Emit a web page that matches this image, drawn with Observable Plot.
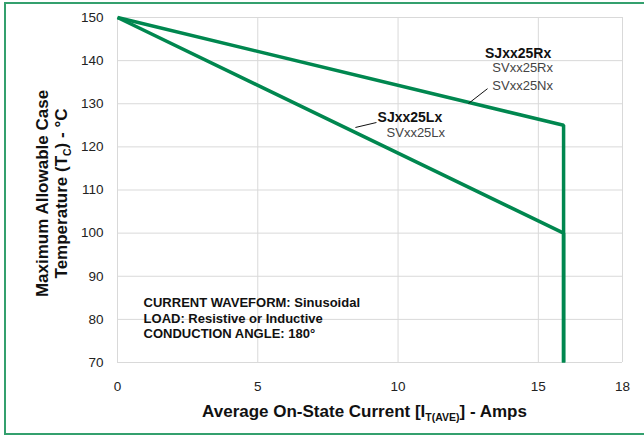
<!DOCTYPE html>
<html>
<head>
<meta charset="utf-8">
<script src="https://cdn.jsdelivr.net/npm/d3@7"></script>
<script src="https://cdn.jsdelivr.net/npm/@observablehq/plot@0.6"></script>
<style>
  html, body { margin: 0; padding: 0; background: #fff; }
  #wrap { position: relative; width: 644px; height: 436px; overflow: hidden; font-family: "Liberation Sans", Arial, sans-serif; }
  #border { position: absolute; left: 4px; top: 2px; width: 700px; height: 433px; box-sizing: border-box; border: 2px solid #34a06e; }
  #chart { position: absolute; left: 0; top: 0; }
</style>
</head>
<body>
<div id="wrap"><div id="border"></div><div id="chart"></div></div>
<script>
// ---- data ----
const xTicks = [0, 5, 10, 15, 18];
const yTicks = [70, 80, 90, 100, 110, 120, 130, 140, 150];
const seriesNames = ["SJxx25Rx", "SJxx25Lx"];
const currentRx = [0, 15.9, 15.9];
const tempRx = [150, 125, 70];
const currentLx = [0, 15.9, 15.9];
const tempLx = [150, 100, 70];
const annotationLines = ["CURRENT WAVEFORM: Sinusoidal", "LOAD: Resistive or Inductive", "CONDUCTION ANGLE: 180°"];

// table for the library
const lineData = [
  ...currentRx.map((x, i) => ({series: seriesNames[0], x, y: tempRx[i]})),
  ...currentLx.map((x, i) => ({series: seriesNames[1], x, y: tempLx[i]}))
];

// label placements (data units)
const labels = [
  {text: "SJxx25Rx", x: 13.1, y: 141.6, bold: true},
  {text: "SVxx25Rx", x: 13.36, y: 138.4, bold: false},
  {text: "SVxx25Nx", x: 13.36, y: 134.2, bold: false},
  {text: "SJxx25Lx", x: 9.27, y: 126.8, bold: true},
  {text: "SVxx25Lx", x: 9.59, y: 123.3, bold: false}
];
const leaders = [
  {x1: 12.51, y1: 130.06, x2: 13.19, y2: 133.5},
  {x1: 8.48, y1: 124.5, x2: 9.23, y2: 125.65}
];
const annotation = annotationLines.map((t, i) => ({text: t, x: 0.93, y: [83.8, 80.2, 76.6][i]}));

const green = "#00874f";
const grid = "#d9d9d9";

const chart = Plot.plot({
  width: 644,
  height: 436,
  marginLeft: 117,
  marginRight: 22,
  marginTop: 17,
  marginBottom: 74,
  style: {background: "transparent", fontFamily: "'Liberation Sans', Arial, sans-serif"},
  x: {domain: [0, 18]},
  y: {domain: [70, 150]},
  marks: [
    Plot.ruleX(xTicks, {stroke: grid, strokeWidth: 1}),
    Plot.ruleY(yTicks, {stroke: grid, strokeWidth: 1}),
    Plot.axisX({ticks: xTicks, tickSize: 0, tickPadding: 19, fontSize: 13.5, fill: "#222", label: null}),
    Plot.axisY({ticks: yTicks, tickSize: 0, tickPadding: 14, fontSize: 13.5, fill: "#222", label: null}),
    Plot.line(lineData, {x: "x", y: "y", z: "series", stroke: green, strokeWidth: 3.5, strokeLinejoin: "miter", strokeLinecap: "butt"}),
    Plot.link(leaders, {x1: "x1", y1: "y1", x2: "x2", y2: "y2", stroke: "#111", strokeWidth: 1}),
    Plot.text(labels.filter(d => d.bold), {x: "x", y: "y", text: "text", textAnchor: "start", fontSize: 14, fontWeight: "bold", fill: "#111"}),
    Plot.text(labels.filter(d => !d.bold), {x: "x", y: "y", text: "text", textAnchor: "start", fontSize: 13, fill: "#444"}),
    Plot.text(annotation, {x: "x", y: "y", text: "text", textAnchor: "start", fontSize: 13, fontWeight: "bold", fill: "#111"})
  ]
});
document.getElementById("chart").appendChild(chart);

// axis titles with subscripts
const svg = d3.select(chart);
const xs = chart.scale("x"), ys = chart.scale("y");
const cx = (xs.apply(0) + xs.apply(18)) / 2 - 5;
const cy = (ys.apply(70) + ys.apply(150)) / 2 + 4;

const xt = svg.append("text")
  .attr("x", cx).attr("y", 417)
  .attr("text-anchor", "middle")
  .attr("font-size", 17).attr("font-weight", "bold").attr("fill", "#111")
  .attr("font-family", "'Liberation Sans', Arial, sans-serif");
xt.append("tspan").text("Average On-State Current [I");
xt.append("tspan").attr("font-size", 10.5).attr("dy", 4).text("T(AVE)");
xt.append("tspan").attr("dy", -4).text("] - Amps");

const yt = svg.append("g").attr("transform", `translate(0,${cy}) rotate(-90)`)
  .attr("font-size", 17).attr("font-weight", "bold").attr("fill", "#111")
  .attr("font-family", "'Liberation Sans', Arial, sans-serif");
yt.append("text").attr("x", 0).attr("y", 48).attr("text-anchor", "middle").text("Maximum Allowable Case");
const y2 = yt.append("text").attr("x", 0).attr("y", 67).attr("text-anchor", "middle");
y2.append("tspan").text("Temperature (T");
y2.append("tspan").attr("font-size", 10.5).attr("dy", 4).text("C");
y2.append("tspan").attr("dy", -4).text(") - °C");
</script>
</body>
</html>
